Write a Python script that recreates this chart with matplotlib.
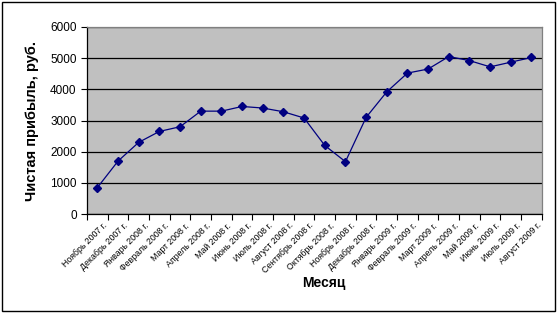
import matplotlib.pyplot as plt
import matplotlib.transforms as mtransforms
from matplotlib.patches import Rectangle

months = ["Ноябрь 2007 г.", "Декабрь 2007 г.", "Январь 2008 г.", "Февраль 2008 г.",
          "Март 2008 г.", "Апрель 2008 г.", "Май 2008 г.", "Июнь 2008 г.",
          "Июль 2008 г.", "Август 2008 г.", "Сентябрь 2008 г.", "Октябрь 2008 г.",
          "Ноябрь 2008 г.", "Декабрь 2008 г.", "Январь 2009 г.", "Февраль 2009 г.",
          "Март 2009 г.", "Апрель 2009 г.", "Май 2009 г.", "Июнь 2009 г.",
          "Июль 2009 г.", "Август 2009 г."]
profit = [850, 1700, 2300, 2650, 2800, 3300, 3300, 3450, 3400, 3280, 3080, 2200,
          1680, 3100, 3920, 4520, 4650, 5050, 4920, 4720, 4870, 5020]
yticks = [0, 1000, 2000, 3000, 4000, 5000, 6000]

fig = plt.figure(figsize=(5.58, 3.13), dpi=100)
ax = fig.add_axes([0.156, 0.316, 0.815, 0.598])
ax.set_facecolor('#C0C0C0')

x = list(range(len(months)))
ax.plot(x, profit, color='#000080', linewidth=0.9, marker='D', markersize=3.6,
        markerfacecolor='#000080', markeredgecolor='#000080', zorder=3)

ax.set_xlim(-0.5, len(months) - 0.5)
ax.set_ylim(0, 6000)
ax.set_yticks(yticks)
ax.set_yticklabels([str(v) for v in yticks], fontsize=8.5, family='Liberation Sans')
ax.yaxis.grid(True, color='black', linewidth=0.9)
ax.set_axisbelow(True)

# границы категорий - основные деления, подписи - на промежуточных
ax.set_xticks([i + 0.5 for i in range(-1, len(months))], minor=False)
ax.set_xticklabels([''] * (len(months) + 1))
ax.set_xticks(x, minor=True)
ax.set_xticklabels(months, minor=True, rotation=45, ha='right', va='top',
                   fontsize=6.3, family='Liberation Sans', rotation_mode='anchor')
ax.tick_params(axis='x', which='minor', length=0, pad=5)
ax.tick_params(axis='x', which='major', length=4, direction='out')
ax.tick_params(axis='y', length=4, direction='out')

offset = mtransforms.ScaledTranslation(5 / 100, 0, fig.dpi_scale_trans)
for lbl in ax.get_xticklabels(minor=True):
    lbl.set_transform(lbl.get_transform() + offset)

for s in ax.spines.values():
    s.set_color('black')
    s.set_linewidth(0.9)
ax.spines['top'].set_color('#808080')
ax.spines['right'].set_color('#808080')

ax.set_ylabel('Чистая прибыль, руб.', fontsize=10.5, fontweight='bold',
              family='Liberation Sans', labelpad=8)
fig.text(0.58, 0.095, 'Месяц', fontsize=10, fontweight='bold', family='Liberation Sans',
         ha='center', va='center')

fig.patches.append(Rectangle((0.004, 0.006), 0.99, 0.988, transform=fig.transFigure,
                             fill=False, edgecolor='black', linewidth=1))

fig.savefig('out.png', dpi=100)
